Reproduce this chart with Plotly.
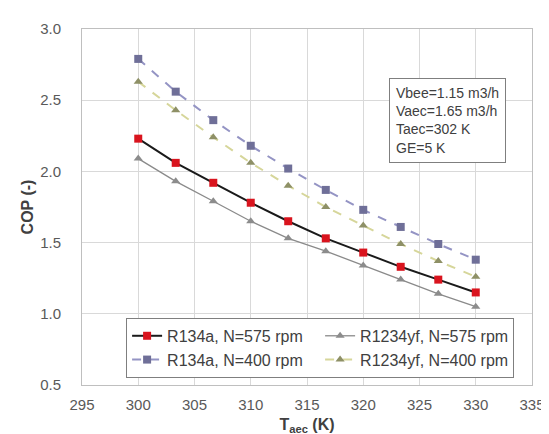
import plotly.graph_objects as go

T = [300, 303.33, 306.67, 310, 313.33, 316.67, 320, 323.33, 326.67, 330]
r134a_575 = [2.23, 2.06, 1.92, 1.78, 1.65, 1.53, 1.43, 1.33, 1.24, 1.15]
r134a_400 = [2.79, 2.56, 2.36, 2.18, 2.02, 1.87, 1.73, 1.61, 1.49, 1.38]
r1234yf_575 = [2.09, 1.93, 1.79, 1.65, 1.53, 1.44, 1.34, 1.24, 1.14, 1.05]
r1234yf_400 = [2.63, 2.43, 2.24, 2.06, 1.90, 1.75, 1.62, 1.49, 1.37, 1.26]

fig = go.Figure()
fig.add_trace(go.Scatter(x=T, y=r134a_575, name="R134a, N=575 rpm", mode="lines+markers",
                         line=dict(color="#1a1a1a", width=2),
                         marker=dict(symbol="square", size=8, color="#D9141E")))
fig.add_trace(go.Scatter(x=T, y=r1234yf_575, name="R1234yf, N=575 rpm", mode="lines+markers",
                         line=dict(color="#8a8a8a", width=1.3),
                         marker=dict(symbol="triangle-up", size=8, color="#8c8c8c")))
fig.add_trace(go.Scatter(x=T, y=r134a_400, name="R134a, N=400 rpm", mode="lines+markers",
                         line=dict(color="#9494C4", width=2, dash="dash"),
                         marker=dict(symbol="square", size=8, color="#6F6F98")))
fig.add_trace(go.Scatter(x=T, y=r1234yf_400, name="R1234yf, N=400 rpm", mode="lines+markers",
                         line=dict(color="#D6D69A", width=2, dash="dash"),
                         marker=dict(symbol="triangle-up", size=8, color="#8E9066")))

fig.add_annotation(x=0.682, y=0.863, xref="paper", yref="paper", xanchor="left", yanchor="top",
                   text="Vbee=1.15 m3/h<br>Vaec=1.65 m3/h<br>Taec=302 K<br>GE=5 K",
                   showarrow=False, align="left", bordercolor="#7f7f7f", borderwidth=1,
                   borderpad=6, bgcolor="white",
                   font=dict(family="Liberation Sans, Arial", size=14, color="#404040"))

fig.update_layout(
    width=549, height=434,
    margin=dict(l=74, r=17, t=13, b=55),
    paper_bgcolor="white", plot_bgcolor="white",
    font=dict(family="Liberation Sans, Arial", size=15, color="#595959"),
    legend=dict(orientation="h", x=0.098, y=0.02, xanchor="left", yanchor="bottom",
                entrywidth=148, bordercolor="#7f7f7f", borderwidth=1, bgcolor="white",
                font=dict(size=16, color="#404040"), traceorder="normal",
                itemwidth=30, tracegroupgap=0),
    xaxis=dict(range=[295, 335], dtick=5, showgrid=True, gridcolor="#d9d9d9",
               showline=True, linecolor="#bfbfbf", mirror=True, ticks="",
               ticklabelstandoff=6,
               title=dict(text="<b>T<sub>aec</sub> (K)</b>", standoff=6,
                          font=dict(size=16, color="#404040"))),
    yaxis=dict(range=[0.5, 3.0], dtick=0.5, tickformat=".1f", showgrid=True, gridcolor="#d9d9d9",
               showline=True, linecolor="#bfbfbf", mirror=True, ticks="",
               ticklabelstandoff=17,
               title=dict(text="<b>COP (-)</b>", standoff=2,
                          font=dict(size=16, color="#404040"))),
)

fig.write_html("out.html")
